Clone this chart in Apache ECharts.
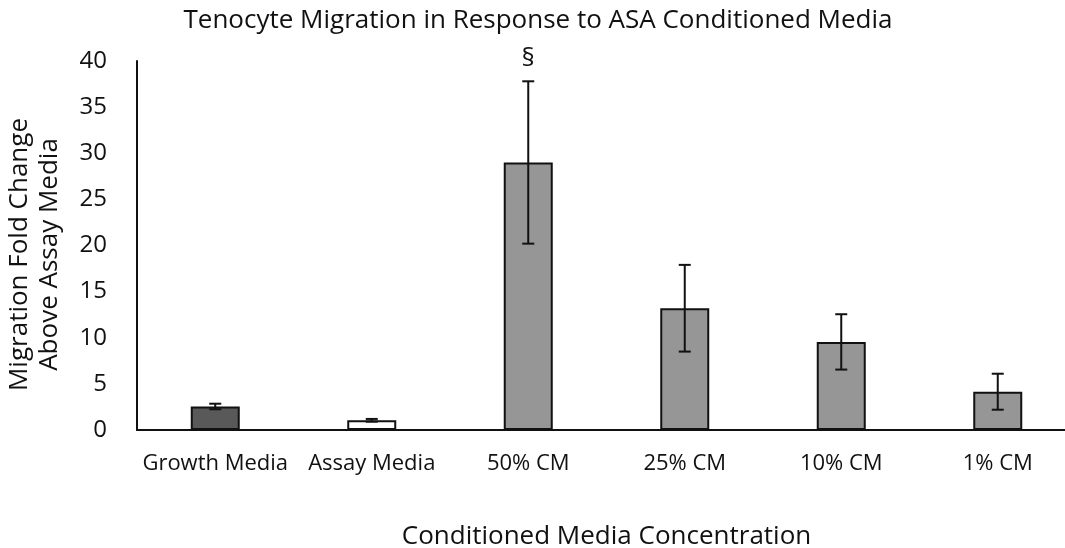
<!DOCTYPE html>
<html><head><meta charset="utf-8">
<script src="https://cdn.jsdelivr.net/npm/echarts@6/dist/echarts.min.js"></script>
<style>html,body{margin:0;padding:0;background:#fff}#c{width:1065px;height:548px}</style>
</head><body><div id="c"></div>
<script>
const categories = ["Growth Media", "Assay Media", "50% CM", "25% CM", "10% CM", "1% CM"];
const values = [2.55, 1.05, 29.0, 13.2, 9.55, 4.15];
const errors = [0.3, 0.15, 8.8, 4.7, 3.0, 1.95];
const annotations = ["", "", "§", "", "", ""];
const barColors = ["#595959", "#ffffff", "#969696", "#969696", "#969696", "#969696"];
const yTicks = [0, 5, 10, 15, 20, 25, 30, 35, 40];

const FONT = "'Open Sans'";
const chart = echarts.init(document.getElementById('c'), null, {renderer: 'canvas'});
chart.setOption({
  animation: false,
  backgroundColor: '#fff',
  title: {
    text: 'Tenocyte Migration in Response to ASA Conditioned Media',
    left: 533, top: 3, textAlign: 'center',
    textStyle: {fontFamily: FONT, fontSize: 26, fontWeight: 'normal', color: '#111'}
  },
  grid: {left: 137, right: -11, top: 61, bottom: 118, outerBoundsMode: 'none', containLabel: false},
  xAxis: {
    type: 'category', data: categories,
    name: 'Conditioned Media Concentration', nameLocation: 'middle', nameGap: 94,
    nameTextStyle: {fontFamily: FONT, fontSize: 26, color: '#111'},
    axisLine: {lineStyle: {color: '#111', width: 2}},
    axisTick: {show: false},
    axisLabel: {fontFamily: FONT, fontSize: 22, color: '#111', margin: 23, interval: 0}
  },
  yAxis: {
    type: 'value', min: 0, max: 40, interval: 5,
    name: 'Migration Fold Change\nAbove Assay Media', nameLocation: 'middle', nameGap: 72,
    nameTextStyle: {fontFamily: FONT, fontSize: 26, color: '#111', lineHeight: 30, padding: [0, 18, 0, 0]},
    axisLine: {show: true, lineStyle: {color: '#111', width: 2}},
    axisTick: {show: false},
    splitLine: {show: false},
    axisLabel: {fontFamily: FONT, fontSize: 24, color: '#111', margin: 30,
      formatter: v => yTicks.includes(v) ? String(v) : ''}
  },
  series: [
    {
      type: 'bar', barWidth: 49,
      data: values.map((v, i) => ({value: v, itemStyle: {color: barColors[i]}})),
      itemStyle: {borderColor: '#111', borderWidth: 2}
    },
    {
      type: 'custom',
      data: values.map((v, i) => [i, v - errors[i], v + errors[i], annotations[i]]),
      z: 10,
      renderItem: function (params, api) {
        const x = api.value(0);
        const lo = api.coord([x, api.value(1)]);
        const hi = api.coord([x, api.value(2)]);
        const hw = 6;
        const style = {stroke: '#111', lineWidth: 2};
        const children = [
          {type: 'line', shape: {x1: lo[0], y1: lo[1], x2: hi[0], y2: hi[1]}, style},
          {type: 'line', shape: {x1: lo[0] - hw, y1: lo[1], x2: lo[0] + hw, y2: lo[1]}, style},
          {type: 'line', shape: {x1: hi[0] - hw, y1: hi[1], x2: hi[0] + hw, y2: hi[1]}, style}
        ];
        const ann = annotations[params.dataIndex];
        if (ann) {
          children.push({type: 'text', style: {text: ann, x: hi[0], y: hi[1] - 10,
            align: 'center', verticalAlign: 'bottom', fill: '#111',
            font: '26px ' + FONT}});
        }
        return {type: 'group', children};
      }
    }
  ]
});
</script></body></html>
